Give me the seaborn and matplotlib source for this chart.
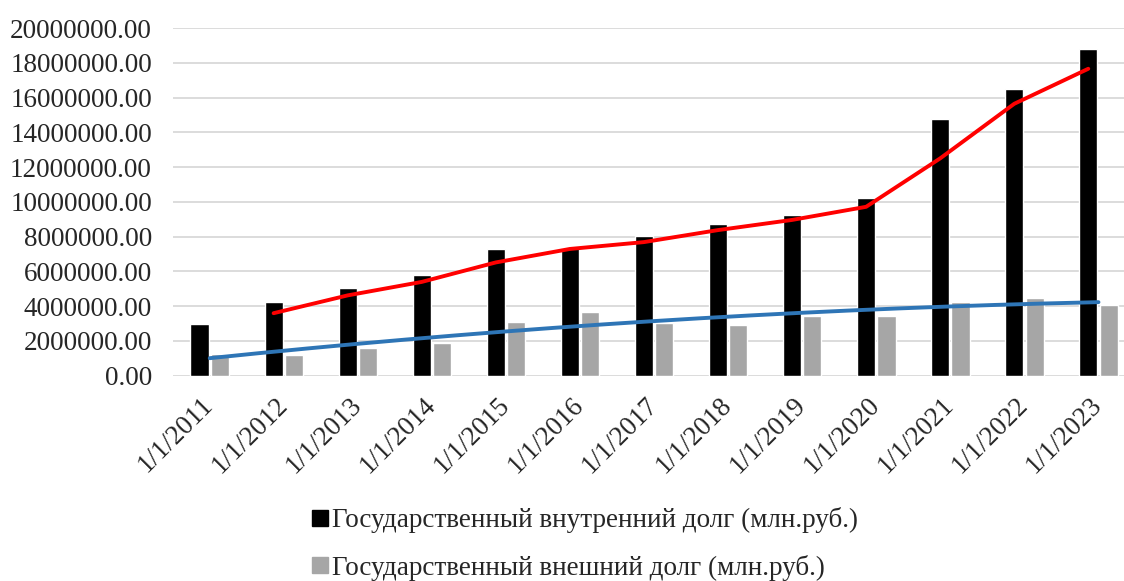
import numpy as np
import pandas as pd
import matplotlib
matplotlib.use("Agg")
import matplotlib.pyplot as plt
import matplotlib.transforms as mtransforms
from matplotlib.lines import Line2D
import seaborn as sns

# Russian state debt, mln rubles, as of January 1 of each year
years = ["1/1/2011", "1/1/2012", "1/1/2013", "1/1/2014", "1/1/2015", "1/1/2016", "1/1/2017",
         "1/1/2018", "1/1/2019", "1/1/2020", "1/1/2021", "1/1/2022", "1/1/2023"]
internal_debt = [2970000, 4220000, 5020000, 5770000, 7260000, 7320000, 8050000,
                 8700000, 9220000, 10210000, 14790000, 16490000, 18820000]
external_debt = [1230000, 1190000, 1570000, 1860000, 3070000, 3660000, 3050000,
                 2900000, 3450000, 3450000, 4220000, 4470000, 4080000]

label_internal = "Государственный внутренний долг (млн.руб.)"
label_external = "Государственный внешний долг (млн.руб.)"

sns.set_theme(style="white")
plt.rcParams["font.family"] = ["Liberation Serif", "DejaVu Serif"]
FS = 19.5

df = pd.DataFrame({
    "year": years * 2,
    "series": [label_internal] * len(years) + [label_external] * len(years),
    "value": internal_debt + external_debt,
})

fig = plt.figure(figsize=(11.24, 5.81), dpi=100)
W, H = 1124, 581
ax = fig.add_axes([172.7 / W, 205.3 / H, (1135.5 - 172.7) / W, 347.7 / H])

colors = {label_internal: "#000000", label_external: "#a6a6a6"}
sns.barplot(data=df, x="year", y="value", hue="series", order=years,
            hue_order=[label_internal, label_external], palette=colors,
            width=0.55, gap=0.11, saturation=1, legend=False, ax=ax)

# two-period moving average of the internal debt, placed on the black bars
n = len(years)
x_idx = np.arange(n)
ma = pd.Series(internal_debt, dtype=float).rolling(2).mean().to_numpy()
ax.plot(x_idx[1:] - 0.1375, ma[1:], color="#ff0000", lw=2.8,
        solid_capstyle="round", solid_joinstyle="round", zorder=5)

# second-order polynomial trend of the external debt
coef = np.polyfit(x_idx, np.array(external_debt, dtype=float), 2)
xs = np.linspace(0, n - 1, 200)
ax.plot(xs, np.polyval(coef, xs), color="#2e75b6", lw=2.8,
        solid_capstyle="round", zorder=5)

ax.set_xlim(-0.5, n - 0.5)
ax.set_ylim(0, 20000000)
ax.set_yticks(np.arange(0, 20000001, 2000000))
ax.set_yticklabels([f"{v:.2f}" for v in np.arange(0, 20000001, 2000000)], fontsize=FS)
ax.yaxis.grid(True, color="#d9d9d9", lw=1.3)
ax.set_axisbelow(True)
for s in ax.spines.values():
    s.set_visible(False)
ax.tick_params(axis="y", length=0, pad=15)
ax.tick_params(axis="x", length=0, pad=12)
ax.set_xticks(x_idx)
ax.set_xticklabels(years, rotation=45, ha="right", va="top",
                   rotation_mode="anchor", fontsize=FS)
shift = mtransforms.ScaledTranslation(-9 / 100, 0, fig.dpi_scale_trans)
for lbl in ax.get_xticklabels():
    lbl.set_transform(lbl.get_transform() + shift)
ax.set_xlabel("")
ax.set_ylabel("")

handles = [Line2D([], [], marker="s", ls="", color=colors[label_internal], markersize=12),
           Line2D([], [], marker="s", ls="", color=colors[label_external], markersize=12)]
fig.legend(handles, [label_internal, label_external], loc="center",
           bbox_to_anchor=(585 / W, 1 - 544 / H), ncol=1, frameon=False,
           fontsize=FS, handlelength=0.6, handletextpad=0.15, labelspacing=0.8,
           alignment="left")

fig.savefig("out.png", dpi=100)
